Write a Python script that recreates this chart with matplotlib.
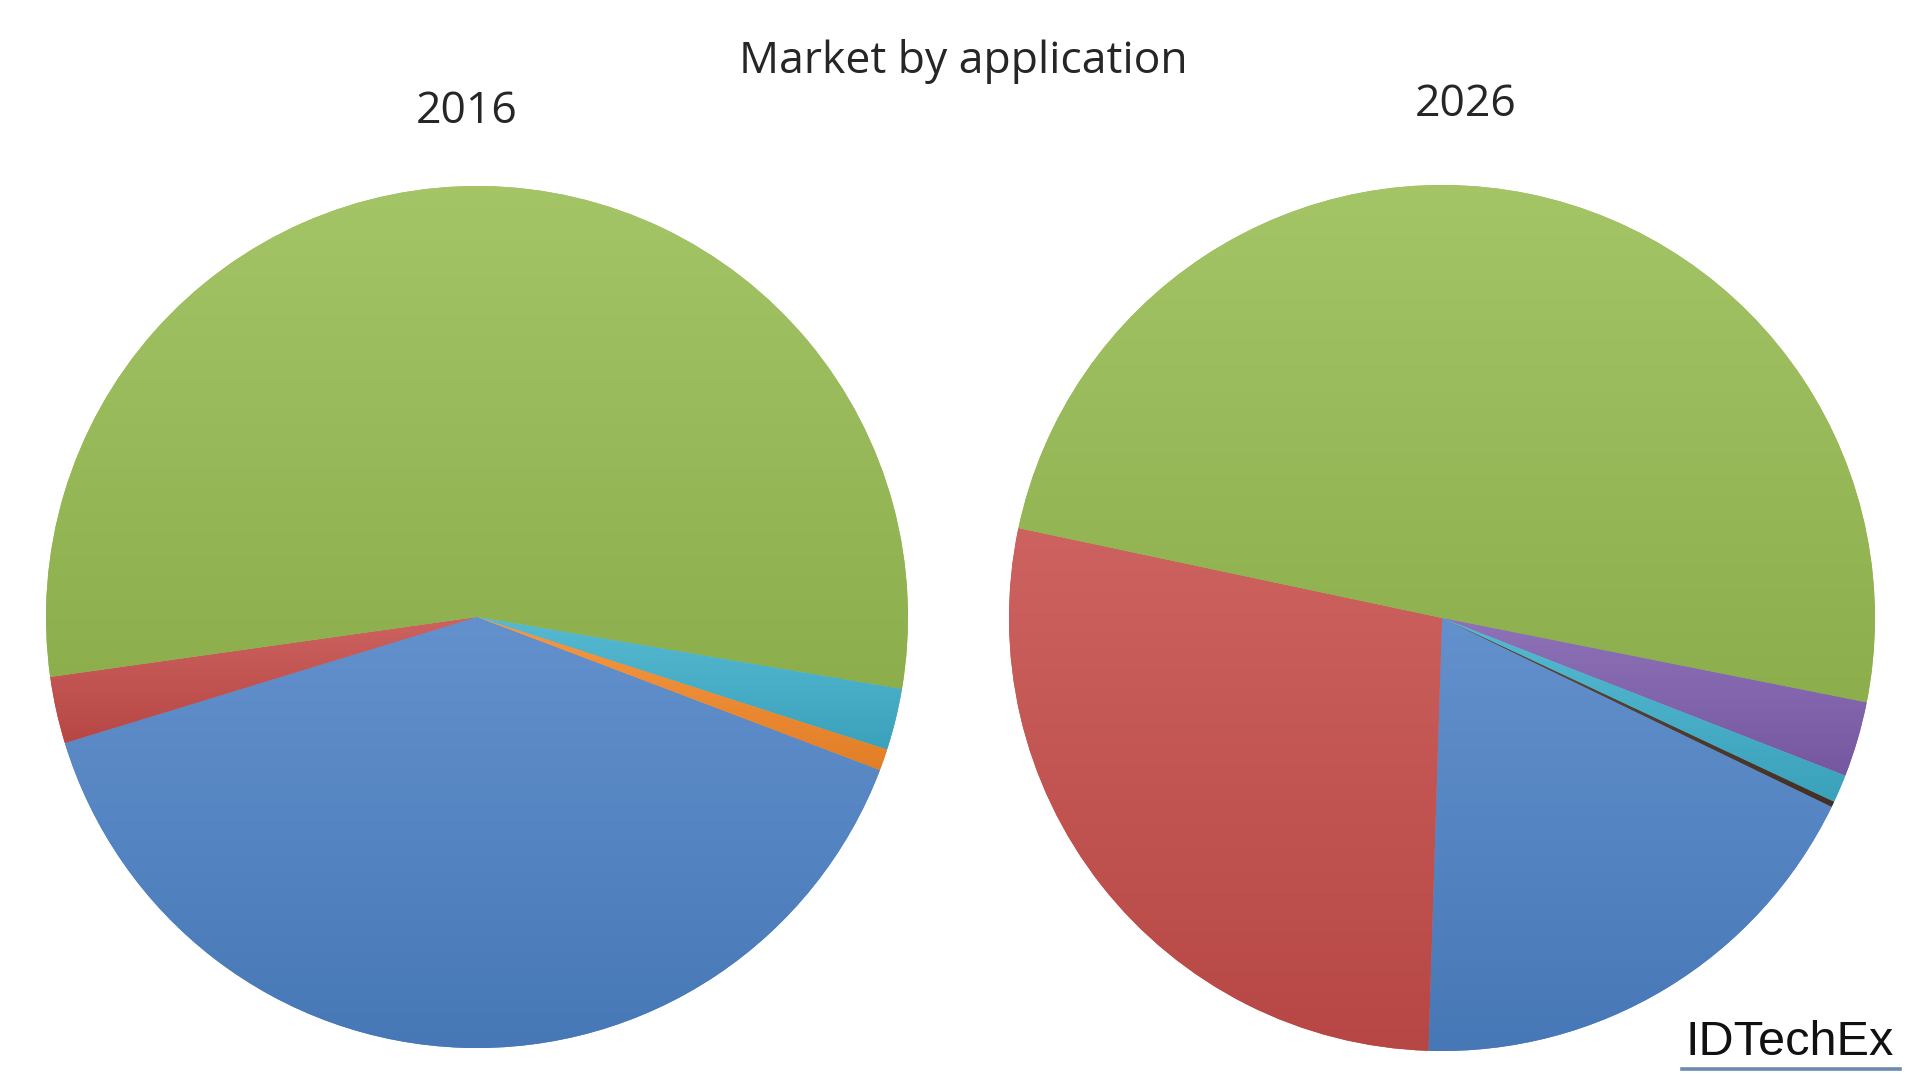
import numpy as np
import matplotlib
matplotlib.use('Agg')
import matplotlib.pyplot as plt
from matplotlib.colors import to_rgb
from matplotlib.lines import Line2D

# market share by application (%), clockwise from the first slice
segments = ['A', 'B', 'C', 'D', 'E', 'F']
share_2016 = [39.5, 2.5, 54.9, 0.0, 2.3, 0.8]
share_2026 = [18.3, 27.8, 49.75, 2.8, 1.05, 0.2]
years = ['2016', '2026']

colors_2016 = ['#4d82c6', '#c64d4a', '#98bd52', '#7f5fae', '#40b0cc', '#f58a2a']
colors_2026 = ['#4d82c6', '#c64d4a', '#98bd52', '#7f5fae', '#40b0cc', '#4a3328']


def shade(ax, wedges, colors):
    # Excel-style vertical gradient inside each slice
    g = np.linspace(0, 1, 256)[:, None, None]
    for w, c in zip(wedges, colors):
        rgb = np.array(to_rgb(c))
        top = rgb + (1 - rgb) * 0.12
        bot = rgb * 0.92
        img = top * (1 - g) + bot * g
        bb = w.get_path().get_extents()
        if bb.width <= 0 or bb.height <= 0:
            continue
        im = ax.imshow(img, extent=(bb.x0, bb.x1, bb.y0, bb.y1), origin='upper',
                       aspect='auto', interpolation='bilinear', zorder=2)
        im.set_clip_path(w)


fig = plt.figure(figsize=(19.2, 10.84), dpi=100)

ax1 = fig.add_axes([0.02396, 0.0332, 0.44896, 0.79520])
ax2 = fig.add_axes([0.52552, 0.03044, 0.45104, 0.79890])

for ax, vals, cols, start in [(ax1, share_2016, colors_2016, 339.2),
                              (ax2, share_2026, colors_2026, 334.15)]:
    wedges, _ = ax.pie(vals, colors=cols, startangle=start, counterclock=False,
                       radius=1, wedgeprops=dict(linewidth=0))
    shade(ax, wedges, cols)
    ax.set_xlim(-1, 1)
    ax.set_ylim(-1, 1)
    ax.set_aspect('auto')
    ax.axis('off')

font = ['Open Sans', 'DejaVu Sans']
fig.text(963 / 1920, 1 - 73 / 1084, 'Market by application', ha='center', va='baseline',
         fontsize=32, family=font, color='#262626')
fig.text(467 / 1920, 1 - 123 / 1084, years[0], ha='center', va='baseline',
         fontsize=32, family=font, color='#262626')
fig.text(1466 / 1920, 1 - 116 / 1084, years[1], ha='center', va='baseline',
         fontsize=32, family=font, color='#262626')

fig.text(1790 / 1920, 1 - 1055 / 1084, 'IDTechEx', ha='center', va='baseline',
         fontsize=35, family='Liberation Sans', color='#111111')
fig.add_artist(Line2D([1682 / 1920, 1900 / 1920], [1 - 1069 / 1084, 1 - 1069 / 1084],
                      transform=fig.transFigure, color='#6a8bb0', linewidth=2.6))

fig.savefig('out.png', dpi=100)
